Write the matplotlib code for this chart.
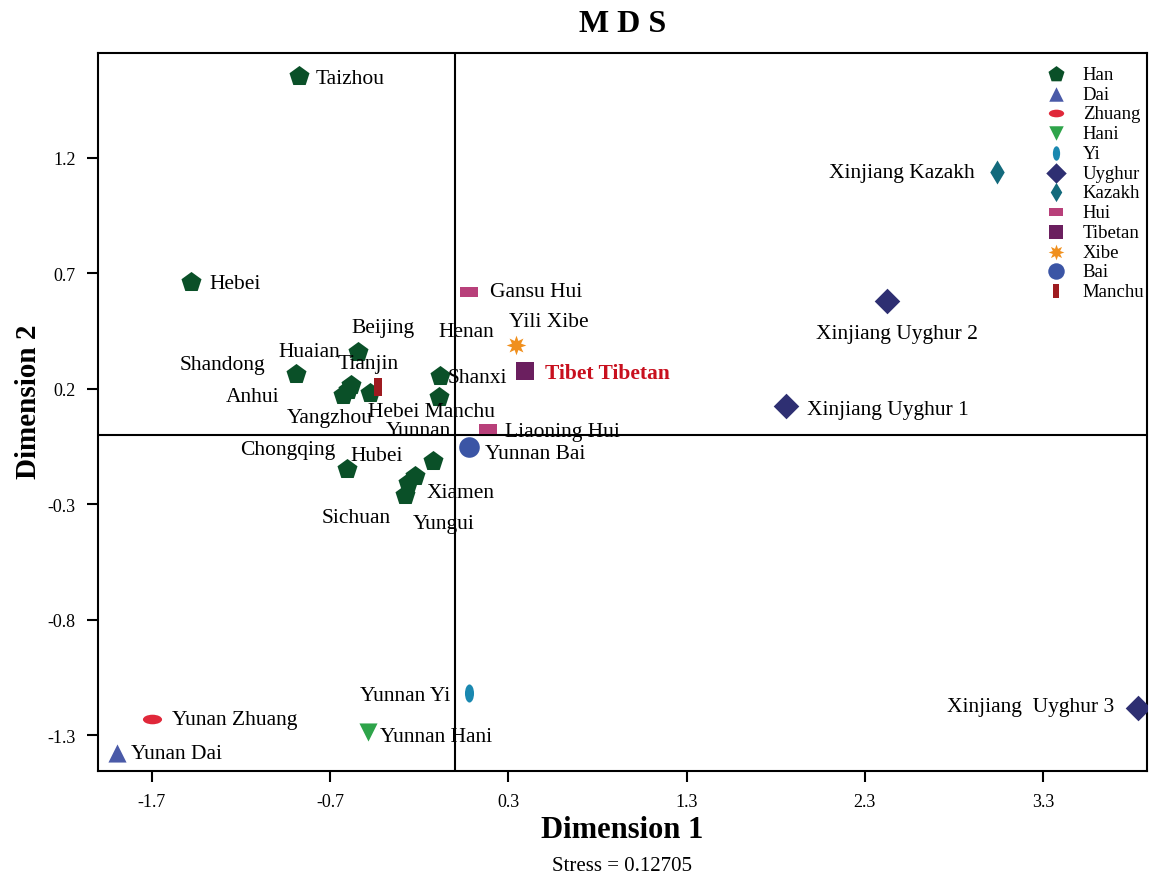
import matplotlib.pyplot as plt
from matplotlib.path import Path
from matplotlib.transforms import Affine2D

plt.rcParams['font.family'] = ['Liberation Serif', 'DejaVu Serif']
plt.rcParams['axes.unicode_minus'] = False

# MDS coordinates
groups = ['Han', 'Dai', 'Zhuang', 'Hani', 'Yi', 'Uyghur', 'Kazakh',
          'Hui', 'Tibetan', 'Xibe', 'Bai', 'Manchu']

han_x = [-0.874, -1.481, -0.543, -0.891, -0.582, -0.627, -0.599, -0.475,
         -0.082, -0.088, -0.604, -0.121, -0.222, -0.262, -0.279]
han_y = [1.555, 0.663, 0.360, 0.265, 0.217, 0.174, 0.196, 0.183,
         0.256, 0.165, -0.146, -0.112, -0.177, -0.207, -0.259]

other_x = {'Dai': [-1.897], 'Zhuang': [-1.700], 'Hani': [-0.487],
           'Yi': [0.081], 'Uyghur': [1.856, 2.424, 3.834],
           'Kazakh': [3.042], 'Hui': [0.081, 0.188], 'Tibetan': [0.396],
           'Xibe': [0.345], 'Bai': [0.081], 'Manchu': [-0.430]}
other_y = {'Dai': [-1.376], 'Zhuang': [-1.229], 'Hani': [-1.289],
           'Yi': [-1.120], 'Uyghur': [0.126, 0.581, -1.181],
           'Kazakh': [1.139], 'Hui': [0.620, 0.027], 'Tibetan': [0.278],
           'Xibe': [0.390], 'Bai': [-0.051], 'Manchu': [0.209]}

# point labels and where they sit (data coords, alignment)
labels = ['Taizhou', 'Hebei', 'Beijing', 'Shandong', 'Huaian', 'Tianjin',
          'Anhui', 'Yangzhou', 'Shanxi', 'Henan', 'Hebei Manchu', 'Yunnan',
          'Chongqing', 'Hubei', 'Xiamen', 'Sichuan', 'Yungui', 'Gansu Hui',
          'Yili Xibe', 'Tibet Tibetan', 'Liaoning Hui', 'Yunnan Bai',
          'Xinjiang Kazakh', 'Xinjiang Uyghur 2', 'Xinjiang Uyghur 1',
          'Xinjiang  Uyghur 3', 'Yunnan Yi', 'Yunnan Hani', 'Yunan Zhuang',
          'Yunan Dai']
label_pos = [(-0.779, 1.546, 'left'), (-1.380, 0.655, 'left'),
             (-0.402, 0.464, 'center'), (-1.307, 0.304, 'center'),
             (-0.818, 0.360, 'center'), (-0.487, 0.308, 'center'),
             (-1.133, 0.165, 'center'), (-0.700, 0.074, 'center'),
             (-0.043, 0.248, 'left'), (0.064, 0.447, 'center'),
             (-0.133, 0.100, 'center'), (-0.206, 0.018, 'center'),
             (-0.936, -0.064, 'center'), (-0.436, -0.090, 'center'),
             (-0.161, -0.250, 'left'), (-0.554, -0.358, 'center'),
             (-0.065, -0.384, 'center'), (0.199, 0.620, 'left'),
             (0.525, 0.490, 'center'), (0.508, 0.269, 'left'),
             (0.283, 0.014, 'left'), (0.171, -0.081, 'left'),
             (2.918, 1.135, 'right'), (2.480, 0.438, 'center'),
             (1.974, 0.109, 'left'), (3.699, -1.177, 'right'),
             (-0.026, -1.129, 'right'), (-0.419, -1.306, 'left'),
             (-1.588, -1.233, 'left'), (-1.818, -1.380, 'left')]

circle = Path.unit_circle()
h_ellipse = circle.transformed(Affine2D().scale(1.0, 0.5))
v_ellipse = circle.transformed(Affine2D().scale(0.5, 1.0))
h_rect = Path([(-1, -0.5), (1, -0.5), (1, 0.5), (-1, 0.5), (-1, -0.5)],
              [1, 2, 2, 2, 79])
v_rect = Path([(-0.5, -1), (0.5, -1), (0.5, 1), (-0.5, 1), (-0.5, -1)],
              [1, 2, 2, 2, 79])

styles = {
    'Han': ('p', '#0a5028', 230),
    'Dai': ('^', '#4a5aa8', 170),
    'Zhuang': (h_ellipse, '#e0283a', 190),
    'Hani': ('v', '#2ea44a', 170),
    'Yi': (v_ellipse, '#1a88b0', 170),
    'Uyghur': ('D', '#2e2f72', 170),
    'Kazakh': ('d', '#136a7c', 150),
    'Hui': (h_rect, '#b8407a', 170),
    'Tibetan': ('s', '#6b1f5f', 180),
    'Xibe': ((8, 1, 0), '#f0901e', 200),
    'Bai': ('o', '#3b55a5', 220),
    'Manchu': (v_rect, '#9e1b20', 150),
}

fig = plt.figure(figsize=(11.51, 8.79), dpi=100)
ax = fig.add_axes([0.0851, 0.1217, 0.9114, 0.8169])

ax.axvline(0, color='black', lw=1.5, zorder=1)
ax.axhline(0, color='black', lw=1.5, zorder=1)

for g in groups:
    m, c, s = styles[g]
    if g == 'Han':
        xs, ys = han_x, han_y
    else:
        xs, ys = other_x[g], other_y[g]
    ax.scatter(xs, ys, marker=m, color=c, s=s, linewidths=0, label=g, zorder=3)

for lab, (lx, ly, ha) in zip(labels, label_pos):
    if lab == 'Tibet Tibetan':
        ax.text(lx, ly, lab, ha=ha, va='center', fontsize=15.5,
                fontweight='bold', color='#c8101e', zorder=4)
    else:
        ax.text(lx, ly, lab, ha=ha, va='center', fontsize=15.5, zorder=4)

ax.set_xlim(-2.003, 3.884)
ax.set_ylim(-1.456, 1.655)
ax.set_xticks([-1.7, -0.7, 0.3, 1.3, 2.3, 3.3])
ax.set_yticks([-1.3, -0.8, -0.3, 0.2, 0.7, 1.2])
ax.tick_params(direction='out', length=8, width=1.5, labelsize=13, pad=8)
for sp in ax.spines.values():
    sp.set_linewidth(1.5)

ax.set_title('M D S', fontsize=23, fontweight='bold', pad=16)
ax.set_xlabel('Dimension 1', fontsize=22, fontweight='bold', va='center')
ax.xaxis.set_label_coords(0.5, -0.082)
ax.set_ylabel('Dimension 2', fontsize=21, fontweight='bold', va='center')
ax.yaxis.set_label_coords(-0.066, 0.515)
fig.text(0.5405, 0.0137, 'Stress = 0.12705', ha='center', va='center', fontsize=15)

ax.legend(loc='upper right', bbox_to_anchor=(1.003, 0.990), frameon=False,
          fontsize=13.5, labelspacing=0.14, handletextpad=0.45,
          borderaxespad=0.0, borderpad=0.3, markerscale=0.8, scatterpoints=1)

plt.savefig('out.png', dpi=100)
